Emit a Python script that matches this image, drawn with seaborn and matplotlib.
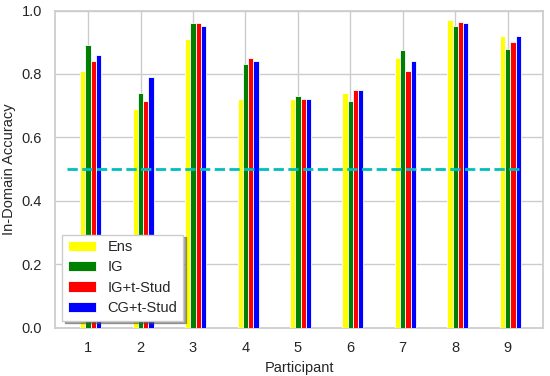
import numpy as np
import seaborn as sns
import matplotlib.pyplot as plt

participants = [1, 2, 3, 4, 5, 6, 7, 8, 9]
ens = [0.81, 0.69, 0.91, 0.72, 0.72, 0.74, 0.85, 0.97, 0.92]
ig = [0.89, 0.74, 0.96, 0.83, 0.73, 0.715, 0.875, 0.95, 0.88]
ig_tstud = [0.84, 0.715, 0.96, 0.85, 0.72, 0.75, 0.81, 0.965, 0.90]
cg_tstud = [0.86, 0.79, 0.95, 0.84, 0.72, 0.75, 0.84, 0.96, 0.92]
chance = 0.5


def main():
    sns.set_theme(style='whitegrid')
    plt.rcParams['font.family'] = ['Liberation Sans', 'DejaVu Sans']
    fig, ax = plt.subplots(figsize=(5.5, 3.76), dpi=100)

    x = np.array(participants)
    w = 0.1
    series = [('Ens', ens, 'yellow', -1),
              ('IG', ig, 'green', 0),
              ('IG+t-Stud', ig_tstud, 'red', 1),
              ('CG+t-Stud', cg_tstud, 'blue', 2)]
    for name, vals, col, k in series:
        ax.bar(x + k * w, vals, width=w, color=col, edgecolor='white',
               linewidth=0.6, label=name, zorder=3)

    ax.axhline(chance, color='#00bfbf', linestyle='--', linewidth=2, zorder=4,
               xmin=0.025, xmax=0.955)

    ax.set_xlim(0.37, 9.68)
    ax.set_ylim(0, 1.0)
    ax.set_xticks(participants)
    ax.tick_params(labelsize=10.5)
    ax.set_xlabel('Participant', fontsize=10.5)
    ax.set_ylabel('In-Domain Accuracy', fontsize=10.5)
    for s in ax.spines.values():
        s.set_color('#cccccc')

    ax.legend(loc='lower left', shadow=True, frameon=True, fancybox=False,
              framealpha=1, edgecolor='#cccccc', handlelength=1.9,
              labelspacing=0.42, fontsize=10.5)

    fig.subplots_adjust(left=0.1, right=0.988, bottom=0.128, top=0.972)
    plt.savefig('out.png', dpi=100)


if __name__ == '__main__':
    main()
